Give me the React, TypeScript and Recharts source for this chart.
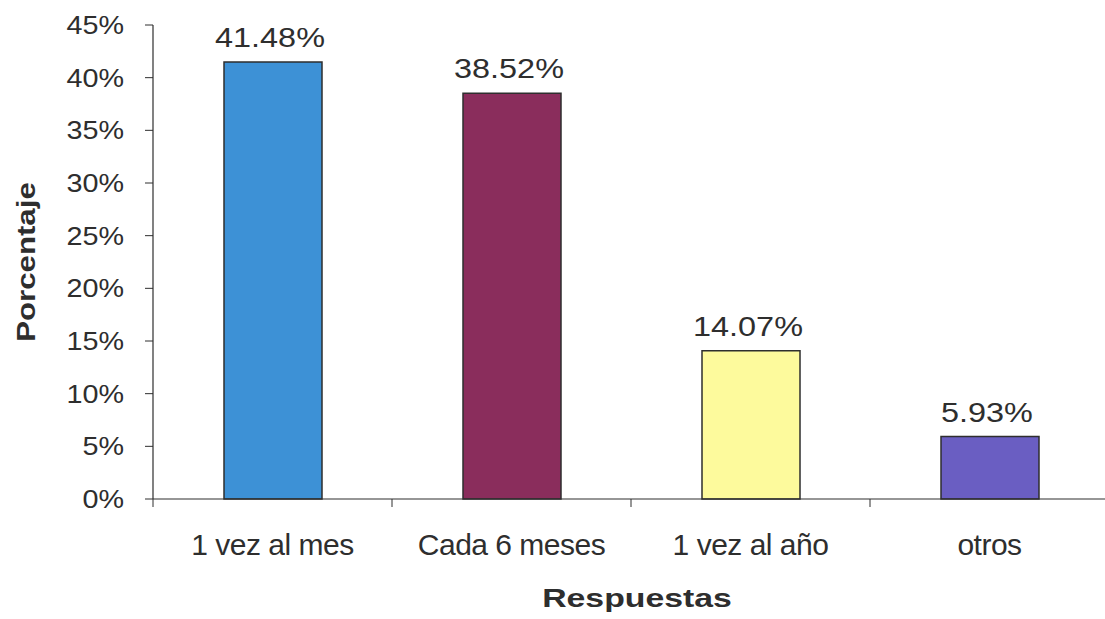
import { BarChart, Bar, XAxis, YAxis, Cell, LabelList, Label } from 'recharts'

const categories = ['1 vez al mes', 'Cada 6 meses', '1 vez al año', 'otros']
const percentages = [41.48, 38.52, 14.07, 5.93]
const yTicks = [0, 5, 10, 15, 20, 25, 30, 35, 40, 45]

const barColors = ['#3d91d6', '#8a2d5c', '#fdfa9c', '#6a5ec2']
const ink = '#2e2e2e'
const font = '"Liberation Sans", Arial, sans-serif'

const data = categories.map((name, i) => ({ name, value: percentages[i] }))

function YTick({ x, y, payload }: any) {
  return (
    <text
      transform={`translate(${x},${y}) scale(1.15,1)`}
      dy={9}
      textAnchor="end"
      fontSize={25}
      fontFamily={font}
      fill={ink}
    >
      {payload.value}%
    </text>
  )
}

// category label plus the small tick marks on the band edges (Excel style)
function XTick({ x, y, payload, index, visibleTicksCount }: any) {
  const half = payload.offset ?? 0
  const last = index === visibleTicksCount - 1
  return (
    <g>
      <line x1={x - half} x2={x - half} y1={y} y2={y + 8} stroke={ink} strokeWidth={1} />
      {last && <line x1={x + half} x2={x + half} y1={y} y2={y + 8} stroke={ink} strokeWidth={1} />}
      <text x={x} y={y} dy={56} textAnchor="middle" fontSize={30} fontFamily={font} fill={ink} letterSpacing={-0.5}>
        {payload.value}
      </text>
    </g>
  )
}

function ValueLabel({ x, y, width, value }: any) {
  const cx = Number(x) + Number(width) / 2
  return (
    <text
      transform={`translate(${cx - 3},${Number(y) - 15}) scale(1.2,1)`}
      textAnchor="middle"
      fontSize={27}
      fontFamily={font}
      fill={ink}
    >
      {Number(value).toFixed(2)}%
    </text>
  )
}

export default function App() {
  return (
    <div
      style={{
        position: 'absolute',
        left: 0,
        top: 0,
        width: 1105,
        height: 619,
        overflow: 'hidden',
        background: '#fff',
      }}
    >
      <BarChart
        width={1120}
        height={619}
        data={data}
        margin={{ top: 25, right: 11, bottom: 0, left: 0 }}
      >
        <XAxis
          dataKey="name"
          height={120}
          tickLine={false}
          tickSize={0}
          tickMargin={0}
          axisLine={{ stroke: ink, strokeWidth: 1.2 }}
          tick={<XTick />}
          interval={0}
        >
          <Label
            content={({ viewBox }: any) => (
              <text
                transform={`translate(${viewBox.x + viewBox.width / 2 + 6},${viewBox.y + 108}) scale(1.3,1)`}
                textAnchor="middle"
                fontSize={26}
                fontWeight="bold"
                fontFamily={font}
                fill={ink}
              >
                Respuestas
              </text>
            )}
          />
        </XAxis>
        <YAxis
          width={153}
          domain={[0, 45]}
          ticks={yTicks}
          interval={0}
          tickSize={8}
          tickMargin={21}
          axisLine={{ stroke: ink, strokeWidth: 1.2 }}
          tickLine={{ stroke: ink, strokeWidth: 1 }}
          tick={<YTick />}
        >
          <Label
            content={({ viewBox }: any) => (
              <text
                transform={`translate(35,${viewBox.y + viewBox.height / 2}) rotate(-90) scale(1.2,1)`}
                textAnchor="middle"
                fontSize={26}
                fontWeight="bold"
                fontFamily={font}
                fill={ink}
              >
                Porcentaje
              </text>
            )}
          />
        </YAxis>
        <Bar
          dataKey="value"
          barSize={98}
          stroke={ink}
          strokeWidth={1.5}
          isAnimationActive={false}
        >
          {data.map((d, i) => (
            <Cell key={d.name} fill={barColors[i]} />
          ))}
          <LabelList dataKey="value" content={<ValueLabel />} />
        </Bar>
      </BarChart>
    </div>
  )
}
